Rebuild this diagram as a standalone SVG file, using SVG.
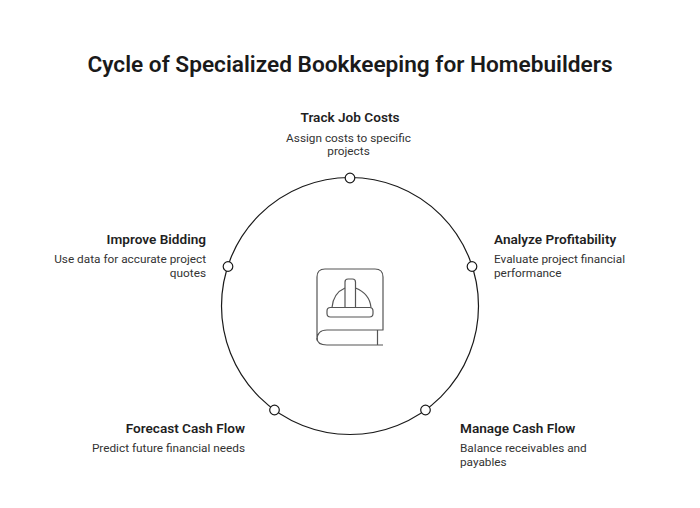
<svg xmlns="http://www.w3.org/2000/svg" width="700" height="508" viewBox="0 0 700 508">
<style>
text{font-family:Roboto,"Liberation Sans",sans-serif;fill:#1f1f1f}
.t{font-size:13.600px;font-weight:600}
.d{font-size:11.800px;fill:#333}
.e{text-anchor:end}
.m{text-anchor:middle}
.dot{fill:#fff;stroke:#1a1a1a;stroke-width:1.2}
.ic{fill:none;stroke:#555;stroke-width:1.2;stroke-linejoin:round}
</style>
<rect width="700" height="508" fill="#fff"/>
<text x="350" y="71.500" class="m" style="font-size:22.650px;font-weight:600;fill:#1a1a1a">Cycle of Specialized Bookkeeping for Homebuilders</text>
<g id="connectors"><circle cx="350" cy="306" r="128.500" fill="none" stroke="#1a1a1a" stroke-width="1.200"/></g>
<g id="icon" class="ic">
<path d="M327 269H375Q383 269 383 277V330H327Q317 330 317 340V277Q317 269 325 269Z"/>
<path d="M317 338Q317 345 327 345H383M377.500 330V345"/>
<path d="M332 307.500C333 297 338 291 345 288M355.500 288C363 291 370 297 371 307.500"/>
<path d="M345 307.500V282Q345 279 348 279H352.500Q355.500 279 355.500 282V307.500"/>
<rect x="327" y="307.500" width="46" height="9.500" rx="3.500"/>
</g>
<g id="track-job-costs"><circle class="dot" cx="350" cy="178" r="4.800"/><text x="350" y="122" class="t m">Track Job Costs</text><text x="348.500" y="142" class="d m">Assign costs to specific</text><text x="348.500" y="155" class="d m">projects</text></g>
<g id="analyze-profitability"><circle class="dot" cx="472" cy="266.500" r="4.800"/><text x="494" y="244" class="t">Analyze Profitability</text><text x="494" y="263" class="d">Evaluate project financial</text><text x="494" y="277" class="d">performance</text></g>
<g id="manage-cash-flow"><circle class="dot" cx="425.500" cy="410" r="4.800"/><text x="460" y="433" class="t">Manage Cash Flow</text><text x="460" y="452" class="d">Balance receivables and</text><text x="460" y="466" class="d">payables</text></g>
<g id="forecast-cash-flow"><circle class="dot" cx="274.500" cy="410" r="4.800"/><text x="245" y="433" class="t e">Forecast Cash Flow</text><text x="245" y="452" class="d e">Predict future financial needs</text></g>
<g id="improve-bidding"><circle class="dot" cx="228" cy="266.500" r="4.800"/><text x="206" y="244" class="t e">Improve Bidding</text><text x="206" y="263" class="d e">Use data for accurate project</text><text x="206" y="277" class="d e">quotes</text></g>
</svg>
